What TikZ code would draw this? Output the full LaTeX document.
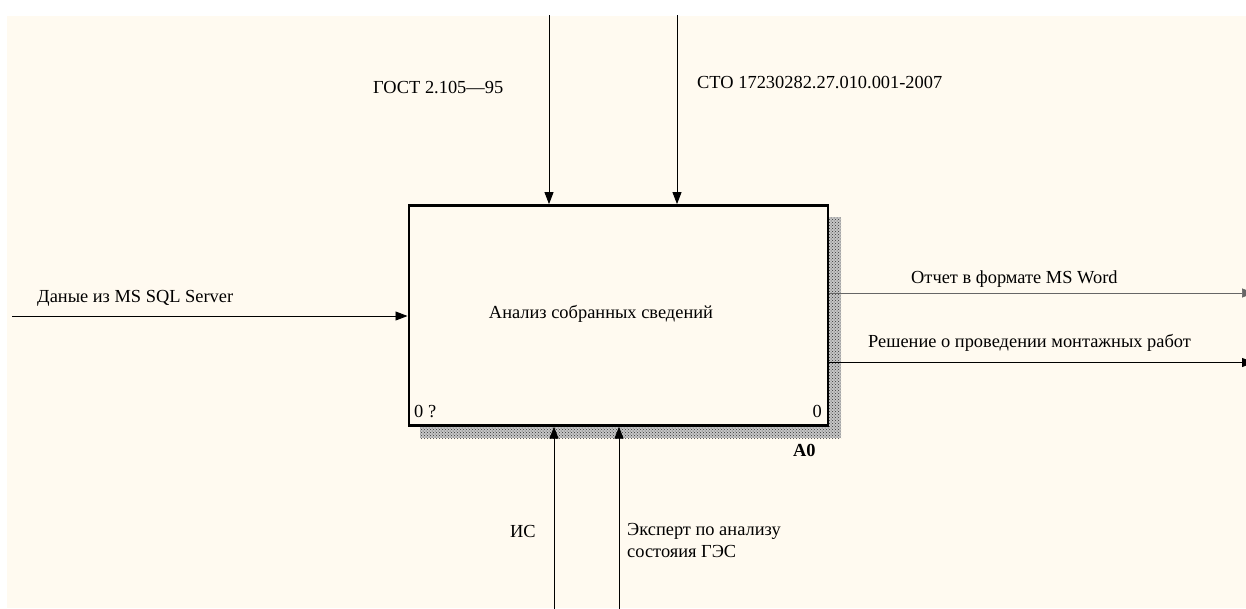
\documentclass[tikz,border=0pt]{standalone}
\usepackage{fontspec}
\setmainfont{Liberation Serif}
\usetikzlibrary{arrows.meta,patterns}
\definecolor{idefbg}{RGB}{255,250,240}
\tikzset{
  arr/.style={-{Triangle[length=12pt,width=9pt]},line width=0.9pt},
  funcbox/.style={draw,line width=2.6pt,fill=idefbg,minimum width=419pt,minimum height=220pt,inner sep=0pt},
  lbl/.style={anchor=base west,inner sep=0pt,font=\fontsize{18.4}{22}\selectfont},
}
\begin{document}
\begin{tikzpicture}[x=1pt,y=-1pt]
    % Поле и фон
    \useasboundingbox (0,0) rectangle (1246,608);
    \fill[white] (0,0) rectangle (1246,608);
    \fill[idefbg] (7,16) rectangle (1246,608);

    % Тень блока
    \fill[gray!45] (420,217) rectangle (841,438);
    \fill[pattern=crosshatch dots,pattern color=gray!40!black] (420,217) rectangle (841,438);

    % Блок A0
    \node[funcbox] (a0) at (618.3,315.4) {};
    \node[lbl,anchor=center] (a0name) at (601,314) {Анализ собранных сведений};
    \node[lbl] (a0num) at (414,417) {0 ?};
    \node[lbl,anchor=base east] (a0cost) at (822,417) {0};
    \node[lbl,font=\fontsize{18.4}{22}\selectfont\bfseries] (a0id) at (793,456) {A0};

    % Управление (сверху)
    \coordinate (ctl1) at (549,15);
    \coordinate (ctl2) at (677,15);
    \draw[arr] (ctl1) -- (ctl1 |- a0.north);
    \draw[arr] (ctl2) -- (ctl2 |- a0.north);
    \node[lbl] (ctl1lbl) at (373,93) {ГОСТ 2.105—95};
    \node[lbl] (ctl2lbl) at (697,88) {СТО 17230282.27.010.001-2007};

    % Вход (слева)
    \coordinate (inp) at (12,316);
    \draw[arr] (inp) -- (inp -| a0.west);
    \node[lbl] (inplbl) at (37,302) {Даные из MS SQL Server};

    % Выходы (справа)
    \coordinate (out1) at (1254,293);
    \coordinate (out2) at (1254,362.5);
    \draw[arr,draw=gray!80!black,line width=0.7pt] (out1 -| a0.east) -- (out1);
    \draw[arr] (out2 -| a0.east) -- (out2);
    \node[lbl] (out1lbl) at (911,283) {Отчет в формате MS Word};
    \node[lbl] (out2lbl) at (868,347) {Решение о проведении монтажных работ};

    % Механизмы (снизу)
    \coordinate (mech1) at (554,610);
    \coordinate (mech2) at (619,610);
    \draw[arr] (mech1) -- (mech1 |- a0.south);
    \draw[arr] (mech2) -- (mech2 |- a0.south);
    \node[lbl] (mech1lbl) at (510,537) {ИС};
    \node[lbl,align=left] (mech2lbl) at (627,557) {Эксперт по анализу\\состояия ГЭС};
\end{tikzpicture}
\end{document}
